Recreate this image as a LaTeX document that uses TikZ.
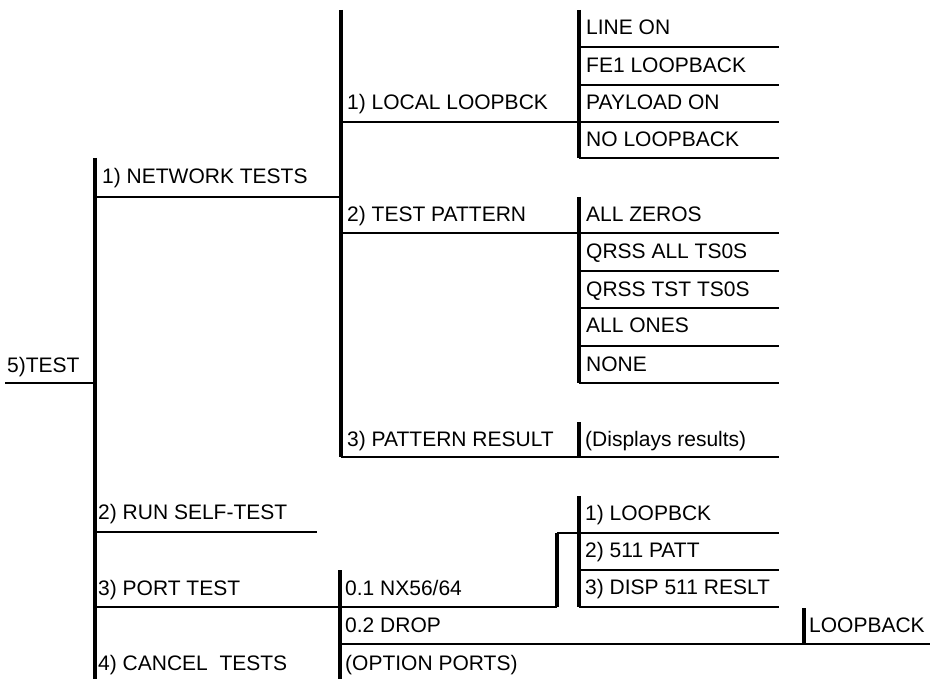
\documentclass[tikz,border=0pt]{standalone}
\usepackage{fontspec}
\setmainfont{Liberation Sans}
\begin{document}
\begin{tikzpicture}[x=1pt,y=-1pt,
  lbl/.style={anchor=base west,inner sep=0pt,font=\fontsize{21}{24}\selectfont},
  vl/.style={line width=3.3pt},
  hl/.style={line width=2.3pt}]
\useasboundingbox (0,0) rectangle (930,679);
% ---- junction coordinates ----
\coordinate (root) at (5,383);
\coordinate (v0t) at (95,158);  \coordinate (v0r) at (95,383); \coordinate (v0b) at (95,679);
\coordinate (netL) at (95,197); \coordinate (netR) at (341,197);
\coordinate (v1t) at (341,10);  \coordinate (v1b) at (341,457);
\coordinate (locL) at (341,122); \coordinate (locR) at (579,122);
\coordinate (va1t) at (579,10); \coordinate (va1b) at (579,158);
\coordinate (patL) at (341,233); \coordinate (patR) at (579,233);
\coordinate (va2t) at (579,197); \coordinate (va2b) at (579,383);
\coordinate (resR) at (779,457); \coordinate (va3t) at (579,422); \coordinate (va3b) at (579,457);
\coordinate (selfL) at (95,532); \coordinate (selfR) at (317,532);
\coordinate (portL) at (95,607); \coordinate (portM) at (557,607); \coordinate (portU) at (557,533); \coordinate (portR) at (579,533);
\coordinate (va4t) at (579,496); \coordinate (va4b) at (579,607);
\coordinate (v4t) at (340,570); \coordinate (v4b) at (340,679);
\coordinate (dropL) at (340,644); \coordinate (dropR) at (930,644);
\coordinate (v5t) at (804,608); \coordinate (v5b) at (804,644);
% ---- texts ----
\node[lbl] (t5) at (7,372) {5)TEST};
\node[lbl] (tnet) at (102,184) {1) NETWORK TESTS};
\node[lbl] (tloc) at (347,110) {1) LOCAL LOOPBCK};
\node[lbl] (r1) at (586,35) {LINE ON};
\node[lbl] (r2) at (586,73) {FE1 LOOPBACK};
\node[lbl] (r3) at (586,110) {PAYLOAD ON};
\node[lbl] (r4) at (586,147) {NO LOOPBACK};
\node[lbl] (tpat) at (347,222) {2) TEST PATTERN};
\node[lbl] (p1) at (586,222) {ALL ZEROS};
\node[lbl] (p2) at (586,259) {QRSS ALL TS0S};
\node[lbl] (p3) at (586,297) {QRSS TST TS0S};
\node[lbl] (p4) at (586,333) {ALL ONES};
\node[lbl] (p5) at (586,371) {NONE};
\node[lbl] (tres) at (347,446) {3) PATTERN RESULT};
\node[lbl] (tdisp) at (585,446) {(Displays results)};
\node[lbl] (tself) at (98,519) {2) RUN SELF-TEST};
\node[lbl] (tport) at (98,595) {3) PORT TEST};
\node[lbl] (tnx) at (345,595) {0.1 NX56/64};
\node[lbl] (tdrop) at (345,632) {0.2 DROP};
\node[lbl] (tcan) at (98,670) {4) CANCEL\ \ TESTS};
\node[lbl] (topt) at (345,670) {(OPTION PORTS)};
\node[lbl] (l1) at (585,520) {1) LOOPBCK};
\node[lbl] (l2) at (585,557) {2) 511 PATT};
\node[lbl] (l3) at (585,594) {3) DISP 511 RESLT};
\node[lbl] (tlb) at (809,632) {LOOPBACK};
% ---- vertical lines ----
\draw[vl] (v0t) -- (v0b);
\draw[vl] (v1t) -- (v1b);
\draw[vl] (va1t) -- (va1b);
\draw[vl] (va2t) -- (va2b);
\draw[vl] (va3t) -- (va3b);
\draw[vl] (va4t) -- (va4b);
\draw[vl] (v4t) -- (v4b);
\draw[vl] (v5t) -- (v5b);
\draw[vl] (portM) -- (portU);
% ---- horizontal lines ----
\draw[hl] (root) -- (v0r);
\draw[hl] (netL) -- (netR);
\draw[hl] (locL) -- (locR);
\foreach \y in {47,85,122,158} \draw[hl] (579,\y) -- (779,\y);
\draw[hl] (patL) -- (patR);
\foreach \y in {233,271,308,346,383} \draw[hl] (579,\y) -- (779,\y);
\draw[hl] (v1b) -- (resR);
\draw[hl] (selfL) -- (selfR);
\draw[hl] (portL) -- (portM);
\draw[hl] (portU) -- (portR);
\foreach \y in {533,570,607} \draw[hl] (579,\y) -- (779,\y);
\draw[hl] (dropL) -- (dropR);
\end{tikzpicture}
\end{document}
